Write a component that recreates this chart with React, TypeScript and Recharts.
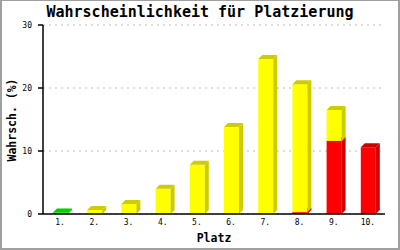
import React from 'react';
import { BarChart, Bar, XAxis, YAxis, CartesianGrid, Label } from 'recharts';

const categories = ['1.', '2.', '3.', '4.', '5.', '6.', '7.', '8.', '9.', '10.'];
const greenValues = [0.25, 0, 0, 0, 0, 0, 0, 0, 0, 0];
const redValues = [0, 0, 0, 0, 0, 0, 0, 0.3, 11.6, 10.6];
const yellowValues = [0, 0.65, 1.6, 4.0, 7.8, 13.8, 24.6, 20.3, 4.9, 0];
const yTicks = [0, 10, 20, 30];

const data = categories.map((c, i) => ({
  name: c,
  green: greenValues[i],
  red: redValues[i],
  yellow: yellowValues[i],
}));

const MONO = '"DejaVu Sans Mono", "Liberation Mono", monospace';

const make3D = (front: string, dark: string) => (props: any) => {
  const { x, y, width, height } = props;
  if (!height || height <= 0 || !width) return <g />;
  const d = 4;
  const w = width;
  const h = height;
  return (
    <g>
      <rect x={x} y={y} width={w} height={h} fill={front} />
      <polygon
        points={`${x + w},${y} ${x + w + d},${y - d} ${x + w + d},${y + h - d} ${x + w},${y + h}`}
        fill={dark}
      />
      <polygon
        points={`${x},${y} ${x + d},${y - d} ${x + w + d},${y - d} ${x + w},${y}`}
        fill={dark}
      />
    </g>
  );
};

const GreenShape = make3D('#00ee00', '#00cc00');
const RedShape = make3D('#ff0000', '#cc0000');
const YellowShape = make3D('#ffff00', '#cccc00');

export default function App() {
  return (
    <div style={{ position: 'fixed', left: 0, top: 0, width: 400, height: 250, background: '#fff' }}>
      <BarChart
        width={400}
        height={250}
        data={data}
        margin={{ top: 25, right: 15, left: 0, bottom: 0 }}
        barSize={15}
      >
        <CartesianGrid vertical={false} stroke="#bbbbbb" strokeDasharray="2 4" yAxisId="left" />
        <XAxis
          dataKey="name"
          height={36}
          tickLine={false}
          tickSize={3}
          axisLine={{ stroke: '#000', strokeWidth: 1.5 }}
          tick={{ fill: '#000', fontSize: 8, fontFamily: MONO }}
        >
          <Label
            content={() => (
              <text x={214} y={242} textAnchor="middle" fontFamily={MONO} fontWeight="bold" fontSize={11.5} fill="#000">
                Platz
              </text>
            )}
          />
        </XAxis>
        <YAxis
          yAxisId="left"
          width={43}
          domain={[0, 30]}
          ticks={yTicks}
          tickSize={5}
          tickMargin={6}
          axisLine={{ stroke: '#000', strokeWidth: 1.5 }}
          tickLine={{ stroke: '#000', strokeWidth: 1.5 }}
          tick={{ fill: '#000', fontSize: 8, fontFamily: MONO }}
        >
          <Label
            content={() => (
              <text
                x={12}
                y={120}
                transform="rotate(-90 12 120)"
                textAnchor="middle"
                dominantBaseline="central"
                fontFamily={MONO}
                fontWeight="bold"
                fontSize={11.5}
                fill="#000"
              >
                Wahrsch. (%)
              </text>
            )}
          />
        </YAxis>
        <YAxis
          yAxisId="right"
          orientation="right"
          width={0}
          domain={[0, 30]}
          tick={false}
          tickLine={false}
          axisLine={{ stroke: '#000', strokeWidth: 1.5 }}
        />
        <Bar dataKey="green" stackId="a" yAxisId="left" shape={GreenShape} isAnimationActive={false} />
        <Bar dataKey="red" stackId="a" yAxisId="left" shape={RedShape} isAnimationActive={false} />
        <Bar dataKey="yellow" stackId="a" yAxisId="left" shape={YellowShape} isAnimationActive={false} />
      </BarChart>
      <div
        style={{
          position: 'absolute',
          left: 0,
          top: 3,
          width: 400,
          textAlign: 'center',
          fontFamily: MONO,
          fontWeight: 'bold',
          fontSize: 15,
          lineHeight: '18px',
          color: '#000',
        }}
      >
        Wahrscheinlichkeit für Platzierung
      </div>
      <div
        style={{
          position: 'absolute',
          left: 0,
          top: 0,
          width: 400,
          height: 250,
          boxSizing: 'border-box',
          borderTop: '1px solid #a0a0a0',
          borderLeft: '2px solid #a0a0a0',
          borderRight: '2px solid #a0a0a0',
          borderBottom: '2px solid #a0a0a0',
          pointerEvents: 'none',
        }}
      />
    </div>
  );
}
